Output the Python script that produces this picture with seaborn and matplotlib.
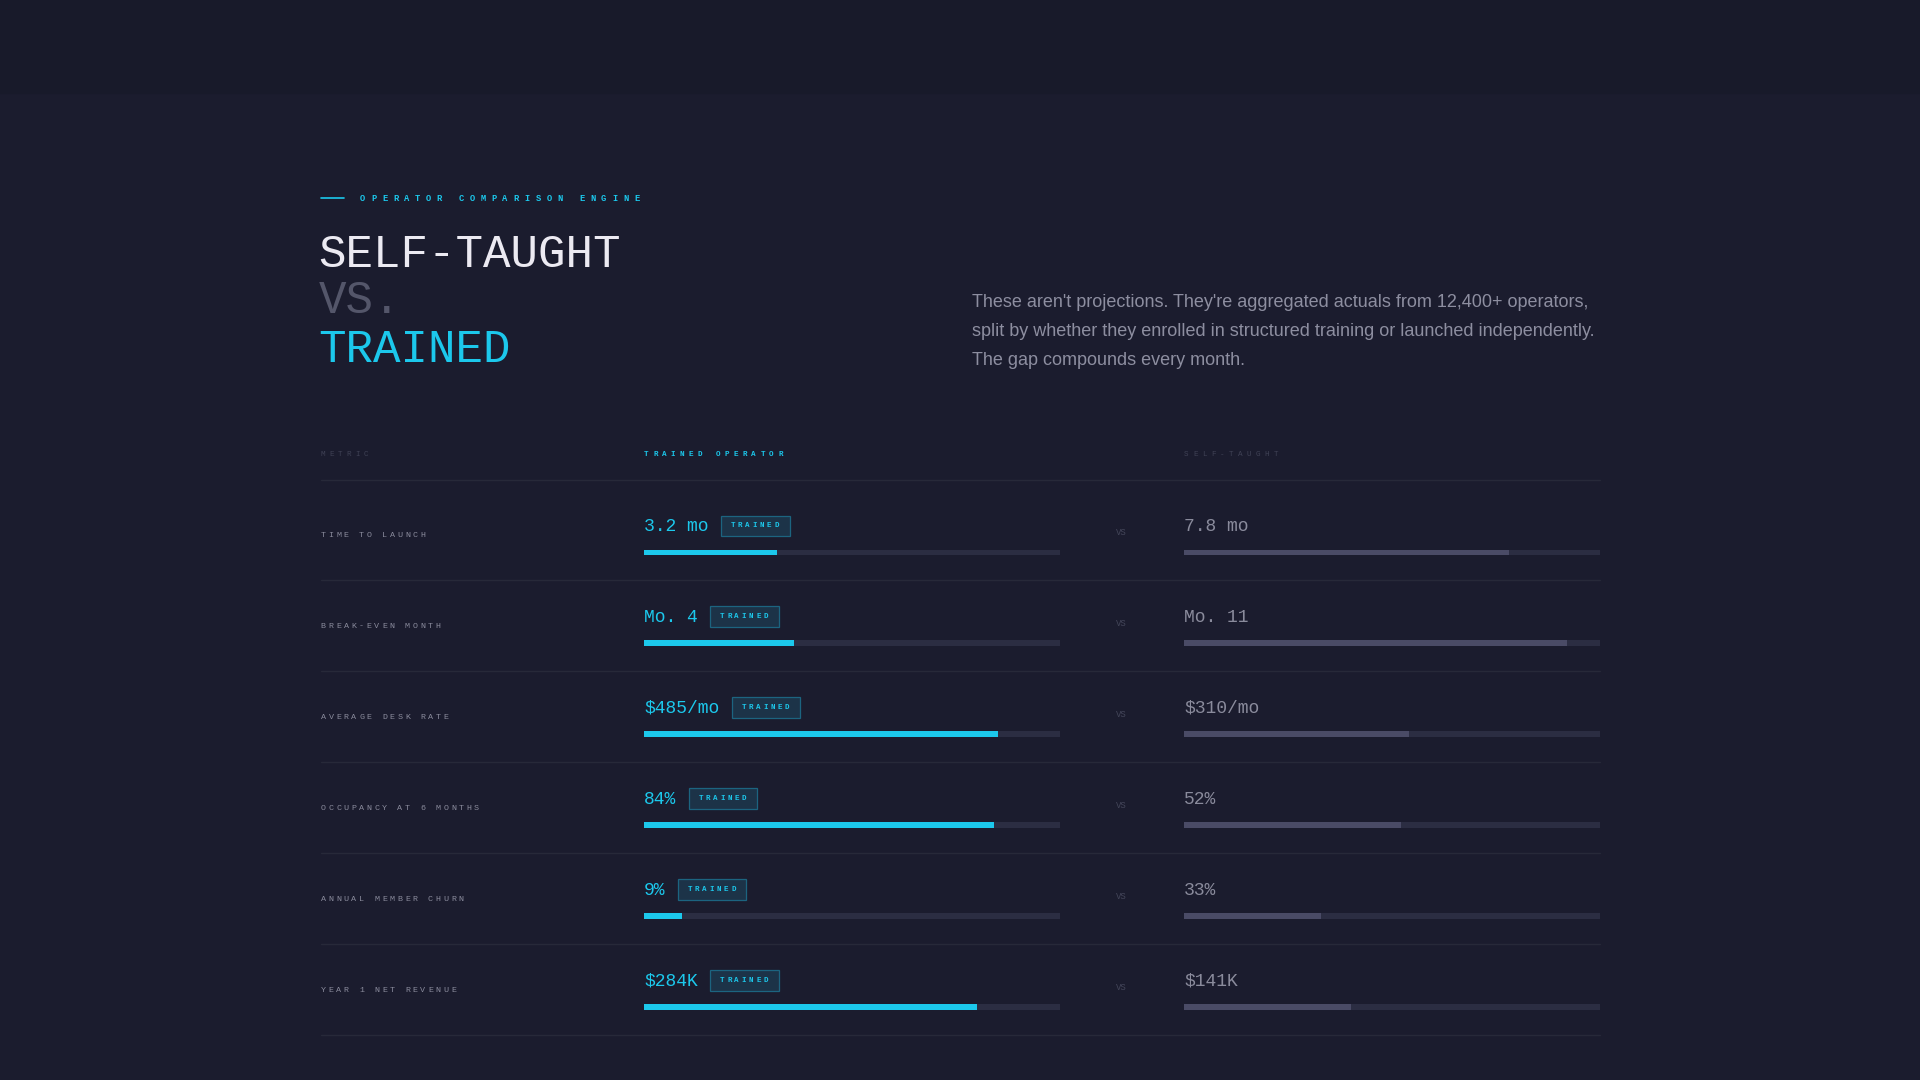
import matplotlib
matplotlib.use("Agg")
import matplotlib.pyplot as plt
import seaborn as sns
import pandas as pd

# data
metrics = ["TIME TO LAUNCH", "BREAK-EVEN MONTH", "AVERAGE DESK RATE",
           "OCCUPANCY AT 6 MONTHS", "ANNUAL MEMBER CHURN", "YEAR 1 NET REVENUE"]
trained_labels = ["3.2 mo", "Mo. 4", "$485/mo", "84%", "9%", "$284K"]
self_labels = ["7.8 mo", "Mo. 11", "$310/mo", "52%", "33%", "$141K"]
trained_fill = [0.32, 0.36, 0.85, 0.84, 0.09, 0.80]
self_fill = [0.78, 0.92, 0.54, 0.52, 0.33, 0.40]

BG = "#1b1c2e"
CYAN = "#1cc8ec"
GRAY = "#8a8b9c"
TRACK = "#2b2d42"
SELFBAR = "#4a4b66"
LINE = "#272939"
MONO = "Liberation Mono"

sns.set_theme(style="white")
fig = plt.figure(figsize=(19.2, 10.8), dpi=100, facecolor=BG)

# pixel-space canvas (reference layout units 1568 x 882)
W, H = 1568, 882
ax = fig.add_axes([0, 0, 1, 1])
ax.set_xlim(0, W)
ax.set_ylim(H, 0)
ax.axis("off")
ax.add_patch(plt.Rectangle((0, 0), W, 76, color="#181a2a", zorder=0))


def spaced(x, y, s, adv, **kw):
    # letter-spaced text, one glyph per step
    for k, ch in enumerate(s):
        if ch != " ":
            ax.text(x + k * adv, y, ch, family=MONO, va="center", ha="left", **kw)


ax.plot([262, 281], [162, 162], color=CYAN, lw=1.2)
spaced(294, 162, "OPERATOR COMPARISON ENGINE", 8.95, color=CYAN, fontsize=6.3, weight="bold")
ax.text(260, 208, "SELF-TAUGHT", color="#eceaf2", fontsize=33, family=MONO, va="center")
ax.text(260, 246, "VS.", color="#54566a", fontsize=33, family=MONO, va="center")
ax.text(260, 286, "TRAINED", color=CYAN, fontsize=33, family=MONO, va="center")

desc = ["These aren't projections. They're aggregated actuals from 12,400+ operators,",
        "split by whether they enrolled in structured training or launched independently.",
        "The gap compounds every month."]
for i, line in enumerate(desc):
    ax.text(794, 247 + i * 23.7, line, color="#8d8ea0", fontsize=12.95,
            family="Liberation Sans", va="center")

spaced(262, 371, "METRIC", 7.0, color="#3f4155", fontsize=5.5)
spaced(526, 371, "TRAINED OPERATOR", 7.3, color=CYAN, fontsize=5.5, weight="bold")
spaced(967, 371, "SELF-TAUGHT", 7.3, color="#3f4155", fontsize=5.5)
ax.plot([262, 1307], [392, 392], color=LINE, lw=1)

row0, step = 437, 74.3
for i, m in enumerate(metrics):
    y = row0 + i * step
    spaced(262, y, m, 6.25, color="#8a8b9c", fontsize=6.0)
    ax.text(526, y - 7, trained_labels[i], color=CYAN, fontsize=13, family=MONO, va="center")
    bx = 526 + len(trained_labels[i]) * 8.8 + 10
    ax.add_patch(plt.Rectangle((bx, y - 16), 56, 17, fc="#1c3348", ec="#1c6480", lw=0.9))
    spaced(bx + 8, y - 7.5, "TRAINED", 5.9, color=CYAN, fontsize=5.4, weight="bold")
    ax.text(916, y - 2, "VS", color="#44465a", fontsize=6.5, family=MONO, va="center", ha="center")
    ax.text(967, y - 7, self_labels[i], color=GRAY, fontsize=13, family=MONO, va="center")
    ax.plot([262, 1307], [y + 37, y + 37], color=LINE, lw=1)

# bar panels
df = pd.DataFrame({"metric": metrics, "trained": trained_fill, "self": self_fill,
                   "track": [1.0] * len(metrics)})
top, bottom = 451 - step / 2, 451 + 5 * step + step / 2
for x0, col, c in [(526, "trained", CYAN), (967, "self", SELFBAR)]:
    bax = fig.add_axes([x0 / W, 1 - bottom / H, 340 / W, (bottom - top) / H])
    sns.barplot(data=df, x="track", y="metric", orient="h", color=TRACK,
                width=0.06, ax=bax, saturation=1, linewidth=0)
    sns.barplot(data=df, x=col, y="metric", orient="h", color=c,
                width=0.06, ax=bax, saturation=1, linewidth=0)
    bax.set_xlim(0, 1)
    bax.axis("off")
    bax.patch.set_alpha(0)

fig.savefig("out.png", dpi=100, facecolor=BG)
